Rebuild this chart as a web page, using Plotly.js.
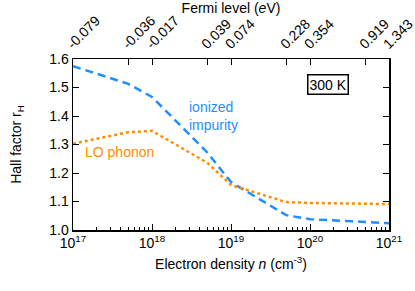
<!DOCTYPE html>
<html>
<head>
<meta charset="utf-8">
<script src="https://cdn.plot.ly/plotly-3.0.1.min.js"></script>
<style>
  html, body { margin: 0; padding: 0; background: #fff; }
  #graph { width: 415px; height: 291px; }
</style>
</head>
<body>
<div id="graph"></div>
<script>
// electron density (cm^-3) and Hall factor
const density = [1e17, 5e17, 1e18, 5e18, 1e19, 5e19, 1e20, 5e20, 1e21];
const ionized = [1.575, 1.513, 1.467, 1.272, 1.168, 1.052, 1.038, 1.027, 1.024];
const phonon = [1.303, 1.343, 1.348, 1.236, 1.158, 1.098, 1.095, 1.092, 1.091];

// top axis: Fermi level at the same densities
const fermiPos = [1e17, 5e17, 1e18, 5e18, 1e19, 5e19, 1e20, 5e20, 1e21];
const fermiText = ['-0.079', '-0.036', '-0.017', '0.039', '0.074', '0.228', '0.354', '0.919', '1.343'];

const decades = [1e17, 1e18, 1e19, 1e20, 1e21];
const decadeText = ['10<sup>17</sup>', '10<sup>18</sup>', '10<sup>19</sup>', '10<sup>20</sup>', '10<sup>21</sup>'];

const minorVals = [];
for (let d = 17; d < 21; d++) {
    for (let k = 2; k <= 9; k++) {
        minorVals.push(k * Math.pow(10, d));
    }
}

const font = { family: 'Liberation Sans, Arial, sans-serif', size: 14, color: '#000' };
const blue = '#1e8fff';
const orange = '#ff8c00';
const xr = [16.9999, 21.0001];

let trace1 = {
    x: density,
    y: ionized,
    type: 'scatter',
    mode: 'lines',
    line: { color: blue, width: 2.5, dash: '8px,5px' },
    hoverinfo: 'skip'
};
let trace2 = {
    x: density,
    y: phonon,
    type: 'scatter',
    mode: 'lines',
    line: { color: orange, width: 2.5, dash: 'dot' },
    hoverinfo: 'skip'
};
// invisible trace so the top axis gets drawn
let trace3 = {
    x: [density[0], density[density.length - 1]],
    y: [ionized[0], ionized[0]],
    xaxis: 'x2',
    type: 'scatter',
    mode: 'lines',
    line: { width: 0 },
    opacity: 0,
    hoverinfo: 'skip'
};

let layout = {
    width: 415,
    height: 291,
    margin: { l: 73, r: 26, t: 59, b: 61 },
    showlegend: false,
    paper_bgcolor: '#fff',
    plot_bgcolor: '#fff',
    font: font,
    xaxis: {
        type: 'log',
        range: xr,
        tickvals: decades,
        ticktext: decadeText,
        ticks: 'inside',
        ticklen: 6,
        tickwidth: 1,
        tickcolor: '#000',
        ticklabeloverflow: 'allow',
        minor: { tickvals: minorVals, ticks: 'inside', ticklen: 3, tickcolor: '#000' },
        showline: true,
        linecolor: '#000',
        linewidth: 1.5,
        showgrid: false,
        zeroline: false,
        tickfont: font,
        title: { text: 'Electron density <i>n</i> (cm<sup>-3</sup>)', font: font, standoff: 9 }
    },
    xaxis2: {
        type: 'log',
        overlaying: 'x',
        side: 'top',
        range: xr,
        tickvals: fermiPos,
        ticktext: fermiText,
        tickangle: -45,
        ticklabelshift: -5,
        ticks: 'inside',
        ticklen: 6,
        tickcolor: '#000',
        ticklabeloverflow: 'allow',
        showline: true,
        linecolor: '#000',
        linewidth: 1.5,
        showgrid: false,
        zeroline: false,
        tickfont: font,
        title: { text: 'Fermi level (<i>e</i>V)', font: font, standoff: 2 }
    },
    yaxis: {
        range: [1.0, 1.6],
        tickvals: [1.0, 1.1, 1.2, 1.3, 1.4, 1.5, 1.6],
        tickformat: '.1f',
        ticks: 'inside',
        ticklen: 6,
        tickcolor: '#000',
        showline: true,
        mirror: 'ticks',
        linecolor: '#000',
        linewidth: 1.5,
        showgrid: false,
        zeroline: false,
        tickfont: font,
        title: { text: 'Hall factor r<sub>H</sub>', font: font, standoff: 24 }
    },
    annotations: [
        {
            x: Math.log10(2.8e18), y: 1.399, xref: 'x', yref: 'y',
            text: 'ionized<br>impurity', showarrow: false,
            xanchor: 'left', align: 'left',
            font: { family: font.family, size: 14, color: blue }
        },
        {
            x: Math.log10(1.35e17), y: 1.272, xref: 'x', yref: 'y',
            text: 'LO phonon', showarrow: false,
            xanchor: 'left',
            font: { family: font.family, size: 14, color: orange }
        },
        {
            x: Math.log10(1.71e20), y: 1.511, xref: 'x', yref: 'y',
            text: '300 K', showarrow: false,
            bordercolor: '#000', borderwidth: 1.5, borderpad: 1, bgcolor: '#fff',
            font: { family: font.family, size: 14, color: '#000' }
        }
    ]
};

Plotly.newPlot('graph', [trace1, trace2, trace3], layout, { staticPlot: true });
</script>
</body>
</html>
